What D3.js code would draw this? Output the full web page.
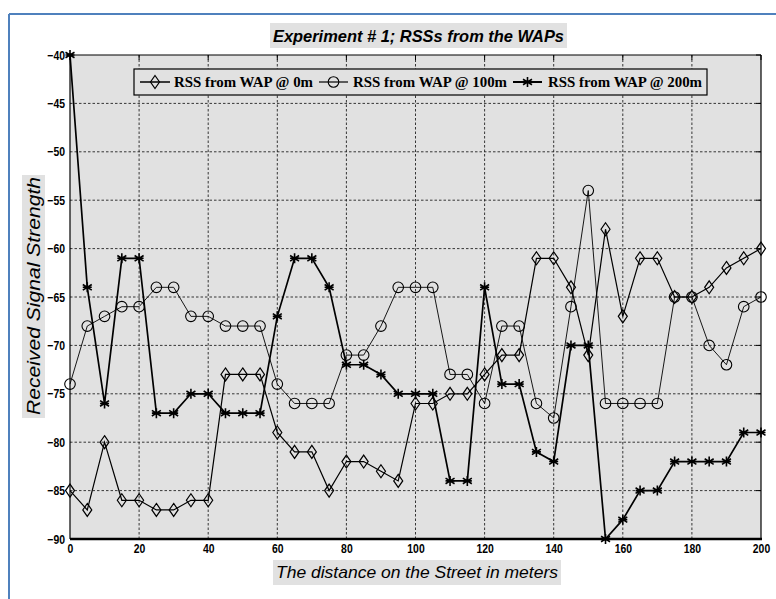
<!DOCTYPE html>
<html><head><meta charset="utf-8">
<script src="https://cdn.jsdelivr.net/npm/d3@7"></script>
<style>body{margin:0;background:#fff}svg{display:block}</style>
</head><body>
<svg id="c" width="776" height="599"></svg>
<script>
const distances = d3.range(0, 201, 5);
const wap0 = [-85,-87,-80,-86,-86,-87,-87,-86,-86,-73,-73,-73,-79,-81,-81,-85,-82,-82,-83,-84,-76,-76,-75,-75,-73,-71,-71,-61,-61,-64,-71,-58,-67,-61,-61,-65,-65,-64,-62,-61,-60];
const wap100 = [-74,-68,-67,-66,-66,-64,-64,-67,-67,-68,-68,-68,-74,-76,-76,-76,-71,-71,-68,-64,-64,-64,-73,-73,-76,-68,-68,-76,-77.5,-66,-54,-76,-76,-76,-76,-65,-65,-70,-72,-66,-65];
const wap200 = [-40,-64,-76,-61,-61,-77,-77,-75,-75,-77,-77,-77,-67,-61,-61,-64,-72,-72,-73,-75,-75,-75,-84,-84,-64,-74,-74,-81,-82,-70,-70,-90,-88,-85,-85,-82,-82,-82,-82,-79,-79];
const seriesNames = ["RSS from WAP @ 0m","RSS from WAP @ 100m","RSS from WAP @ 200m"];
const xTicks = d3.range(0, 201, 20);
const yTicks = d3.range(-90, -39, 5);
const titleText = "Experiment # 1; RSSs from the WAPs";
const xLabel = "The distance on the Street in meters";
const yLabel = "Received Signal Strength";

const svg = d3.select("#c");
const L = 70, R = 761, T = 55, B = 539;
const x = d3.scaleLinear().domain([0, 200]).range([L, R]);
const y = d3.scaleLinear().domain([-90, -40]).range([B, T]);

// outer blue frame
svg.append("line").attr("x1",9).attr("y1",14).attr("x2",9).attr("y2",599).attr("stroke","#4f81bd").attr("stroke-width",2);
svg.append("line").attr("x1",9).attr("y1",14).attr("x2",776).attr("y2",14).attr("stroke","#4f81bd").attr("stroke-width",2);

// plot bg
svg.append("rect").attr("x",L).attr("y",T).attr("width",R-L).attr("height",B-T).attr("fill","#e1e1e1");

// grid
const g = svg.append("g");
g.selectAll(".vg").data(xTicks.slice(1,-1)).join("line")
  .attr("x1",d=>x(d)).attr("x2",d=>x(d)).attr("y1",T).attr("y2",B)
  .attr("stroke","#222").attr("stroke-width",0.9).attr("stroke-dasharray","2.5,2");
g.selectAll(".hg").data(yTicks.slice(1,-1)).join("line")
  .attr("y1",d=>y(d)).attr("y2",d=>y(d)).attr("x1",L).attr("x2",R)
  .attr("stroke","#222").attr("stroke-width",0.9).attr("stroke-dasharray","2.5,2");

// axes
const xAxis = d3.axisBottom(x).tickValues(xTicks).tickSize(0).tickPadding(5).tickFormat(d3.format("d"));
const yAxis = d3.axisLeft(y).tickValues(yTicks).tickSize(0).tickPadding(5).tickFormat(d3.format("d"));
const ax = svg.append("g").attr("transform",`translate(0,${B})`).call(xAxis);
const ay = svg.append("g").attr("transform",`translate(${L},0)`).call(yAxis);
[ax, ay].forEach(a => {
  a.select(".domain").remove();
  a.selectAll("text").attr("font-family","'Liberation Sans',Arial,sans-serif")
    .attr("font-weight","bold").attr("font-size",13).attr("fill","#000")
    .each(function(){
      const w = this.getComputedTextLength();
      d3.select(this).attr("textLength", w*0.8).attr("lengthAdjust","spacingAndGlyphs");
    });
});
// top ticks inward and right ticks
svg.append("g").selectAll("line").data(xTicks).join("line")
  .attr("x1",d=>x(d)).attr("x2",d=>x(d)).attr("y1",T).attr("y2",T+5).attr("stroke","#000");
svg.append("g").selectAll("line").data(yTicks).join("line")
  .attr("x1",R-5).attr("x2",R).attr("y1",d=>y(d)).attr("y2",d=>y(d)).attr("stroke","#000");

// frame
svg.append("line").attr("x1",L).attr("x2",R).attr("y1",T).attr("y2",T).attr("stroke","#000").attr("stroke-width",1.2);
svg.append("line").attr("x1",R).attr("x2",R).attr("y1",T).attr("y2",B).attr("stroke","#000").attr("stroke-width",1.2);
svg.append("line").attr("x1",L).attr("x2",L).attr("y1",T).attr("y2",B).attr("stroke","#000").attr("stroke-width",1.2);
svg.append("line").attr("x1",L).attr("x2",R+1).attr("y1",B).attr("y2",B).attr("stroke","#000").attr("stroke-width",2.5);

// markers
function drawMarker(sel, type) {
  if (type === 0) {
    sel.append("path").attr("d","M0,-6.5L4.5,0L0,6.5L-4.5,0Z").attr("fill","none").attr("stroke","#000").attr("stroke-width",1.2);
  } else if (type === 1) {
    sel.append("circle").attr("r",5.3).attr("fill","none").attr("stroke","#000").attr("stroke-width",1.1);
  } else {
    sel.append("path").attr("d","M0,-5V5M-4.5,-2.8L4.5,2.8M-4.5,2.8L4.5,-2.8M-4.5,0H4.5").attr("fill","none").attr("stroke","#000").attr("stroke-width",1.6);
  }
}
const series = [wap0, wap100, wap200];
const widths = [1.2, 0.9, 1.7];
const line = d3.line().x((d,i)=>x(distances[i])).y(d=>y(d));
series.forEach((s, k) => {
  svg.append("path").datum(s).attr("d", line).attr("fill","none").attr("stroke","#000").attr("stroke-width",widths[k]);
});
series.forEach((s, k) => {
  svg.append("g").selectAll("g").data(s).join("g")
    .attr("transform",(d,i)=>`translate(${x(distances[i])},${y(d)})`)
    .each(function(){ drawMarker(d3.select(this), k); });
});

// legend
const lg = svg.append("g");
lg.append("rect").attr("x",134).attr("y",69).attr("width",573).attr("height",26).attr("fill","#e1e1e1").attr("stroke","#000").attr("stroke-width",1.2);
const legX = [[140,170,174,313],[319,348,353,507],[513,542,548,702]];
seriesNames.forEach((n,k) => {
  const [a,b,t0,t1] = legX[k];
  lg.append("line").attr("x1",a).attr("x2",b).attr("y1",82).attr("y2",82).attr("stroke","#000").attr("stroke-width",widths[k]+0.3);
  drawMarker(lg.append("g").attr("transform",`translate(${(a+b)/2},82)`), k);
  lg.append("text").attr("x",t0).attr("y",87).text(n)
    .attr("font-family","'Liberation Serif','Times New Roman',serif").attr("font-weight","bold").attr("font-size",14)
    .attr("textLength",t1-t0).attr("lengthAdjust","spacingAndGlyphs");
});

// title
svg.append("rect").attr("x",270).attr("y",23).attr("width",297).attr("height",25).attr("fill","#e1e1e1");
svg.append("text").attr("x",273).attr("y",42).text(titleText)
  .attr("font-family","'Liberation Sans',Arial,sans-serif").attr("font-style","italic").attr("font-weight","bold").attr("font-size",17)
  .attr("textLength",291).attr("lengthAdjust","spacingAndGlyphs");

// x label
svg.append("rect").attr("x",273).attr("y",560).attr("width",288).attr("height",25).attr("fill","#e1e1e1");
svg.append("text").attr("x",276).attr("y",578).text(xLabel)
  .attr("font-family","'Liberation Sans',Arial,sans-serif").attr("font-style","italic").attr("font-size",17)
  .attr("textLength",282).attr("lengthAdjust","spacingAndGlyphs");

// y label
svg.append("rect").attr("x",22).attr("y",175).attr("width",23).attr("height",243).attr("fill","#e1e1e1");
svg.append("text").attr("transform","translate(40,415) rotate(-90)").text(yLabel)
  .attr("font-family","'Liberation Sans',Arial,sans-serif").attr("font-style","italic").attr("font-size",18)
  .attr("textLength",238).attr("lengthAdjust","spacingAndGlyphs");
</script>
</body></html>
